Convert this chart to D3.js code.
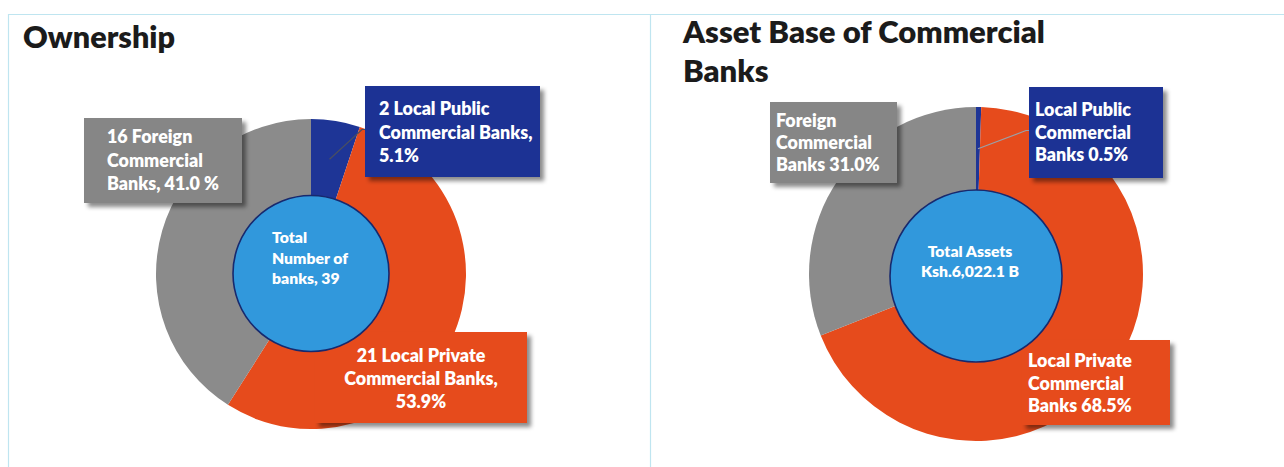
<!DOCTYPE html>
<html>
<head>
<meta charset="utf-8">
<script src="https://cdn.jsdelivr.net/npm/d3@7"></script>
<style>
  html, body { margin: 0; padding: 0; background: #ffffff; }
  svg { display: block; }
  text { font-family: Lato, "Open Sans", sans-serif; font-weight: 800; }
</style>
</head>
<body>
<svg id="chart" width="1284" height="467"></svg>
<script>
// ---------------- DATA ----------------
const categories = ["Local Public", "Local Private", "Foreign"];

const ownershipTitle = ["Ownership"];
const ownershipShares = [5.1, 53.9, 41.0];          // % of banks
const ownershipCounts = [2, 21, 16];                  // number of banks
const ownershipLabels = [
  ["2 Local Public", "Commercial Banks,", "5.1%"],
  ["21 Local Private", "Commercial Banks,", "53.9%"],
  ["16 Foreign", "Commercial", "Banks, 41.0 %"]
];
const ownershipCenter = ["Total", "Number of", "banks, 39"];

const assetTitle = ["Asset Base of Commercial", "Banks"];
const assetShares = [0.5, 68.5, 31.0];                // % of total assets
const assetLabels = [
  ["Local Public", "Commercial", "Banks 0.5%"],
  ["Local Private", "Commercial", "Banks 68.5%"],
  ["Foreign", "Commercial", "Banks 31.0%"]
];
const assetCenter = ["Total Assets", "Ksh.6,022.1 B"];

// ---------------- STYLE / LAYOUT ----------------
const colors = {
  "Local Public": "#1e3596",
  "Local Private": "#e64b1c",
  "Foreign": "#8b8b8b"
};
const boxColors = {
  "Local Public": "#1c3394",
  "Local Private": "#e64b1c",
  "Foreign": "#868686"
};
const innerFill = "#3198dc";
const innerStroke = "#17296e";

const svg = d3.select("#chart");

// drop shadow filter
const defs = svg.append("defs");
const f = defs.append("filter").attr("id", "shadow")
  .attr("x", "-10%").attr("y", "-10%").attr("width", "130%").attr("height", "130%");
f.append("feDropShadow").attr("dx", 4).attr("dy", 4).attr("stdDeviation", 2)
  .attr("flood-color", "#000").attr("flood-opacity", 0.45);

// panel borders
const borderColor = "#bfe5f0";
svg.append("line").attr("x1", 8).attr("x2", 1284).attr("y1", 14.5).attr("y2", 14.5)
  .attr("stroke", borderColor).attr("stroke-width", 1.2);
svg.append("line").attr("x1", 8.5).attr("x2", 8.5).attr("y1", 14).attr("y2", 467)
  .attr("stroke", borderColor).attr("stroke-width", 1.2);
svg.append("line").attr("x1", 650.5).attr("x2", 650.5).attr("y1", 14).attr("y2", 467)
  .attr("stroke", borderColor).attr("stroke-width", 1.2);

function fitWidth(sel, target) {
  const w = sel.node().getComputedTextLength();
  const fs = parseFloat(sel.attr("font-size"));
  sel.attr("font-size", (fs * target / w).toFixed(2));
}
function sizeFor(str, target) {
  const t = svg.append("text").attr("font-size", 20).text(str);
  const w = t.node().getComputedTextLength();
  t.remove();
  return 20 * target / w;
}

const labelFont = sizeFor("Commercial", 96);
const centerFont = sizeFor("Number of", 76);

function drawDonut(cfg) {
  const g = svg.append("g");

  // title
  let tfs = null;
  cfg.title.forEach((t, i) => {
    const tt = g.append("text").attr("x", cfg.titleX).attr("y", cfg.titleY + i * cfg.titleLH)
      .attr("font-size", 30).attr("fill", "#1b1b1b").text(t);
    if (i === 0) { fitWidth(tt, cfg.titleW); tfs = tt.attr("font-size"); }
    else { tt.attr("font-size", tfs); }
  });

  const data = categories.map((c, i) => ({ cat: c, value: cfg.shares[i], label: cfg.labels[i] }));
  const pie = d3.pie().sort(null).value(d => d.value);
  const arcs = pie(data);
  const arc = d3.arc().innerRadius(0).outerRadius(cfg.R);

  const pg = g.append("g").attr("transform", `translate(${cfg.cx},${cfg.cy})`);
  pg.selectAll("path.slice").data(arcs).join("path")
    .attr("class", "slice")
    .attr("d", arc)
    .attr("fill", d => colors[d.data.cat]);

  // leader line for Local Public slice
  const pub = arcs[0];
  const mid = (pub.startAngle + pub.endAngle) / 2;
  const lr = cfg.R * 0.75;
  const sx = cfg.cx + lr * Math.sin(mid), sy = cfg.cy - lr * Math.cos(mid);
  const pb = cfg.boxes[0];
  g.append("path")
    .attr("d", `M${sx},${sy}L${pb.x - 3},${pb.y + pb.h / 2 - 2}L${pb.x},${pb.y + pb.h / 2 - 2}`)
    .attr("fill", "none").attr("stroke", cfg.leaderColor).attr("stroke-width", 1.2);

  // label boxes
  arcs.forEach((a, i) => {
    const b = cfg.boxes[i];
    g.append("rect").attr("x", b.x).attr("y", b.y).attr("width", b.w).attr("height", b.h)
      .attr("fill", boxColors[a.data.cat]).attr("filter", "url(#shadow)");
  });

  // inner circle
  g.append("circle").attr("cx", cfg.cx).attr("cy", cfg.icy).attr("r", cfg.r)
    .attr("fill", innerFill).attr("stroke", innerStroke).attr("stroke-width", 1.6);

  // label text
  arcs.forEach((a, i) => {
    const b = cfg.boxes[i];
    a.data.label.forEach((line, j) => {
      g.append("text")
        .attr("x", b.tx).attr("y", b.ty + j * b.lh)
        .attr("text-anchor", b.anchor || "start")
        .attr("font-size", labelFont).attr("fill", "#ffffff").text(line);
    });
  });

  // center text
  cfg.center.forEach((line, j) => {
    g.append("text").attr("x", cfg.ctx).attr("y", cfg.cty + j * cfg.clh)
      .attr("text-anchor", cfg.canchor).attr("font-size", centerFont)
      .attr("fill", "#ffffff").text(line);
  });
}

drawDonut({
  title: ownershipTitle, titleX: 23, titleY: 48, titleLH: 38, titleW: 152,
  shares: ownershipShares, labels: ownershipLabels, center: ownershipCenter,
  cx: 311, cy: 274, R: 155, icy: 273.5, r: 78,
  leaderColor: "#4a4f60",
  boxes: [
    { x: 365, y: 86, w: 175, h: 91, tx: 379, ty: 115, lh: 23.5 },
    { x: 315, y: 332, w: 212, h: 91, tx: 421, ty: 362, lh: 23, anchor: "middle" },
    { x: 84, y: 118, w: 158, h: 85, tx: 107, ty: 143, lh: 23.5 }
  ],
  ctx: 272, cty: 243, clh: 20.5, canchor: "start"
});

drawDonut({
  title: assetTitle, titleX: 683, titleY: 43, titleLH: 38.5, titleW: 362,
  shares: assetShares, labels: assetLabels, center: assetCenter,
  cx: 976, cy: 274, R: 167, icy: 276, r: 86,
  leaderColor: "#9aa0a8",
  boxes: [
    { x: 1029, y: 87, w: 134, h: 91, tx: 1035, ty: 116, lh: 22.5 },
    { x: 1022, y: 340, w: 148, h: 85, tx: 1028, ty: 367, lh: 22.5 },
    { x: 770, y: 102, w: 127, h: 81, tx: 776, ty: 127, lh: 22 }
  ],
  ctx: 970, cty: 257, clh: 19.5, canchor: "middle"
});
</script>
</body>
</html>
